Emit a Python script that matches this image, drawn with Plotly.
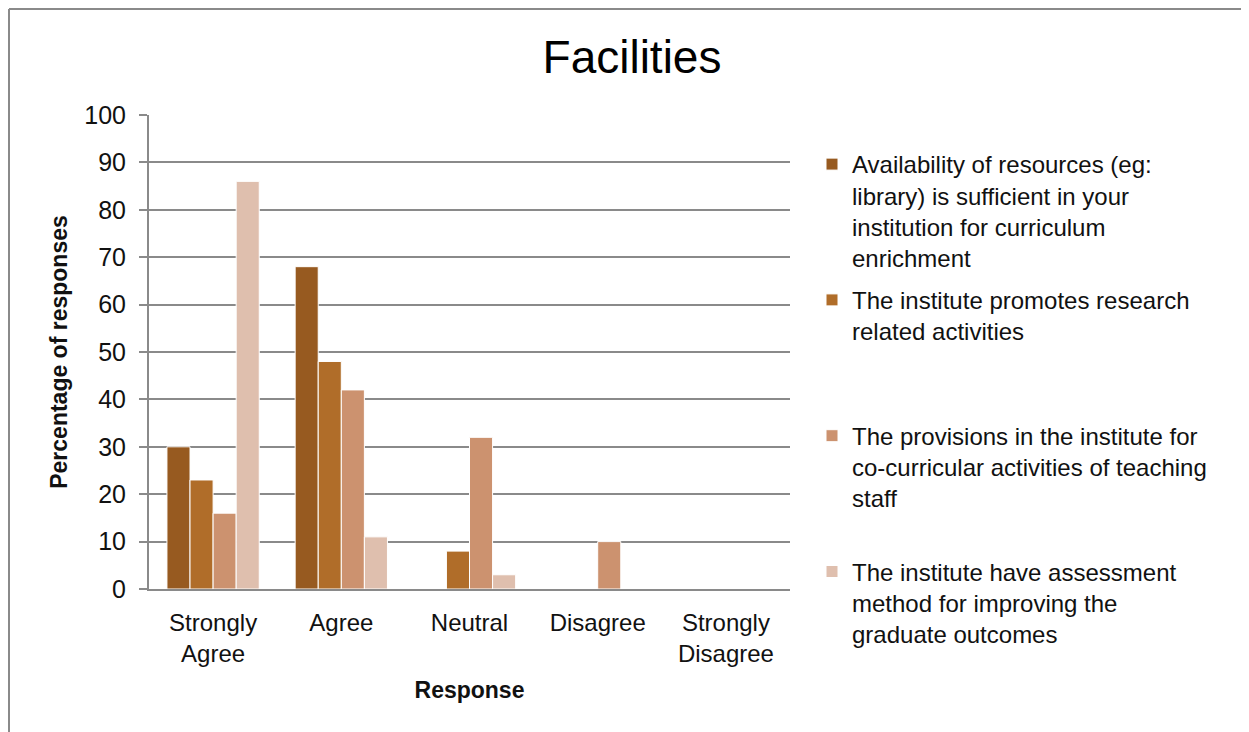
import plotly.graph_objects as go

categories = ["Strongly<br>Agree", "Agree", "Neutral", "Disagree", "Strongly<br>Disagree"]
series_names = [
    "Availability of resources (eg:<br>library) is sufficient in your<br>institution for curriculum<br>enrichment",
    "The institute promotes research<br>related activities",
    "The provisions in the institute for<br>co-curricular activities of teaching<br>staff",
    "The institute have assessment<br>method for improving the<br>graduate outcomes",
]
resources = [30, 68, 0, 0, 0]
research = [23, 48, 8, 0, 0]
cocurricular = [16, 42, 32, 10, 0]
assessment = [86, 11, 3, 0, 0]
series_values = [resources, research, cocurricular, assessment]
colors = ["#975A20", "#B06D29", "#CC926F", "#DFBFAE"]
y_ticks = list(range(0, 101, 10))

OFF = 8  # page offset of the figure (body margin)
W, H = 1249 - OFF, 732 - OFF
# plot area in page pixels, converted to figure pixels
L, R, T, B = 149 - OFF, 790 - OFF, 115 - OFF, 589 - OFF
PW, PH = R - L, B - T


def px_to_paper_x(px):
    return (px - OFF - L) / PW


def px_to_paper_y(py):
    return (B - (py - OFF)) / PH


def pad(name, n=4):
    lines = name.count("<br>") + 1
    return name + "<br>\u00a0" * (n - lines)


fig = go.Figure()
for i, (name, vals, col) in enumerate(zip(series_names, series_values, colors)):
    fig.add_trace(go.Bar(
        x=categories, y=vals, name=pad(name), legendgroup=f"g{i}",
        marker=dict(color=col, line=dict(color="#FFFFFF", width=1)),
    ))

grid = "#8A8A8A"
fig.update_layout(
    width=W, height=H,
    margin=dict(l=L, r=W - R, t=T, b=H - B, autoexpand=False),
    paper_bgcolor="white", plot_bgcolor="white",
    barmode="group", bargap=0.28, bargroupgap=0,
    font=dict(family="Liberation Sans, Arial, sans-serif", size=24, color="#111111"),
    title=dict(text="Facilities", font=dict(size=46, color="#000000"),
               x=(632 - OFF) / W, xref="container", xanchor="center",
               y=1 - (57 - OFF) / H, yref="container", yanchor="middle"),
    legend=dict(x=px_to_paper_x(812), xanchor="left", y=px_to_paper_y(142), yanchor="top",
                valign="top", traceorder="grouped", tracegroupgap=8, maxheight=700,
                font=dict(size=24, color="#111111"), bgcolor="rgba(0,0,0,0)"),
    showlegend=True,
)
fig.update_yaxes(
    range=[0, 100], tickvals=y_ticks, showgrid=True, gridcolor=grid, gridwidth=2,
    showline=True, linecolor=grid, linewidth=2, ticks="outside", ticklen=8, tickcolor=grid,
    tickwidth=2, tickfont=dict(size=25), zeroline=False, automargin=False,
    ticklabelstandoff=8,
    title=dict(text="<b>Percentage of responses</b>", font=dict(size=23), standoff=10),
)
fig.update_xaxes(
    showline=True, linecolor=grid, linewidth=2, ticks="", showgrid=False,
    tickfont=dict(size=24), automargin=False, ticklabelstandoff=11,
    title=dict(text="<b>Response</b>", font=dict(size=23), standoff=16),
)
# chart border (outer frame)
fig.add_shape(type="line", xref="paper", yref="paper",
              x0=px_to_paper_x(9), x1=px_to_paper_x(1260),
              y0=px_to_paper_y(9), y1=px_to_paper_y(9),
              line=dict(color="#8A8A8A", width=2))
fig.add_shape(type="line", xref="paper", yref="paper",
              x0=px_to_paper_x(9), x1=px_to_paper_x(9),
              y0=px_to_paper_y(9), y1=px_to_paper_y(745),
              line=dict(color="#8A8A8A", width=2))

fig.write_html("out.html")
